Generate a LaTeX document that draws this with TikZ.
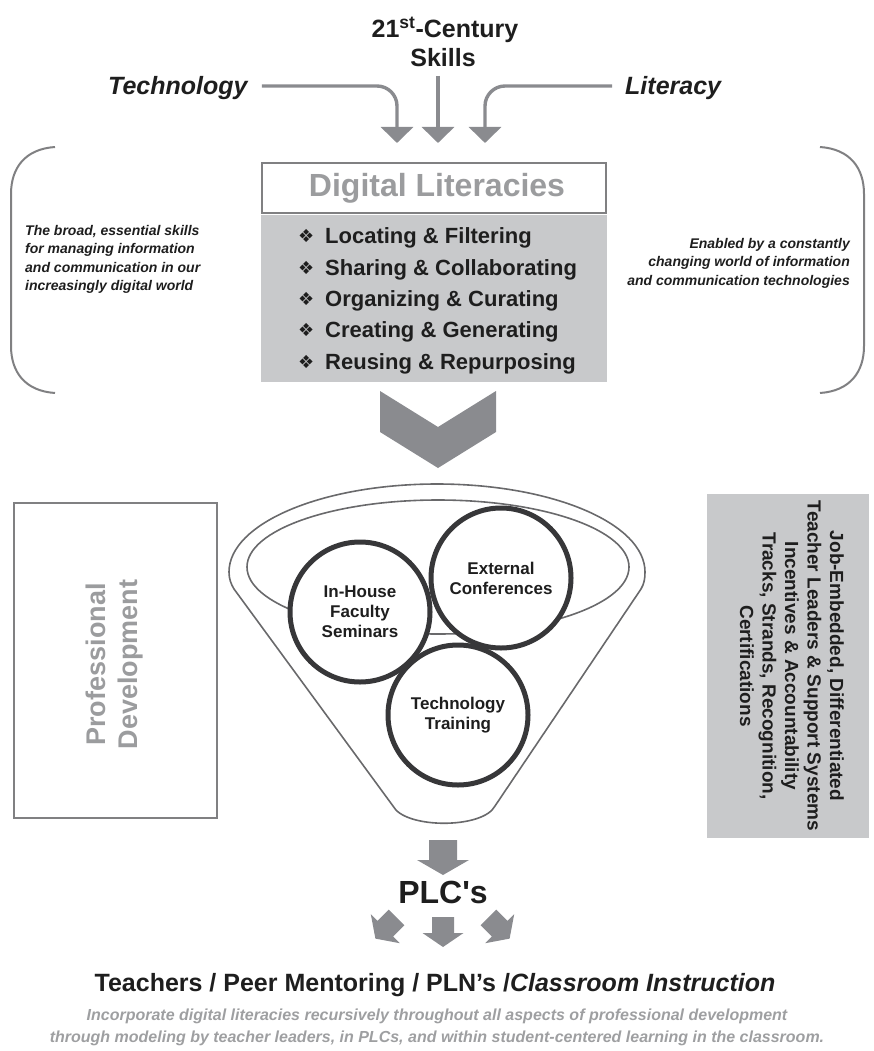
\documentclass[tikz,border=0pt]{standalone}
\usepackage{fontspec}
\setmainfont{Liberation Sans}
\newfontfamily\symfont{DejaVu Sans}
\usetikzlibrary{arrows.meta}

\definecolor{arrowgray}{RGB}{138,139,143}
\definecolor{panelgray}{RGB}{200,201,203}
\definecolor{titlegray}{RGB}{155,156,158}
\definecolor{framegray}{RGB}{128,128,130}
\definecolor{funnelline}{RGB}{105,105,107}
\definecolor{ringline}{RGB}{55,55,57}
\definecolor{notegray}{RGB}{158,159,161}
\definecolor{inkblack}{RGB}{30,30,30}

\newcommand{\fsz}[2]{\fontsize{#1}{#2}\selectfont}

\begin{document}
\begin{tikzpicture}[x=1pt,y=-1pt,
  txt/.style={inner sep=0pt, text=inkblack},
  feed/.style={draw=arrowgray, line width=3.4pt, rounded corners=20pt,
    -{Triangle[width=32pt,length=16pt]}},
  bracket/.style={draw=framegray, line width=2pt},
  note/.style={txt, font=\bfseries\itshape\fsz{14}{18.5}},
  listitem/.style={txt, font=\bfseries\fsz{22}{26}, anchor=base west},
  bullet/.style={txt, font=\symfont\fsz{18}{20}, anchor=base west},
  ring/.style={circle, draw=ringline, line width=5pt, fill=white,
    minimum size=140pt, inner sep=0pt, align=center, text=inkblack,
    font=\bfseries\fsz{17}{20}},
  pics/blkarrow/.style n args={4}{code={
    % #1 shaft half width, #2 head half width, #3 total length, #4 head length
    \fill[arrowgray] (-#1,-#3/2) -- (#1,-#3/2) -- (#1,#3/2-#4) -- (#2,#3/2-#4)
      -- (0,#3/2) -- (-#2,#3/2-#4) -- (-#1,#3/2-#4) -- cycle;
  }}
]
\useasboundingbox (0,0) rectangle (873,1051);

% ---------- heading and the three feeds ----------
\node[txt, anchor=base, font=\bfseries\fsz{25}{28}] (skillsA) at (445,38)
  {21\textsuperscript{st}-Century};
\node[txt, anchor=base, font=\bfseries\fsz{25}{28}] (skillsB) at (443,67) {Skills};
\node[txt, anchor=base west, font=\bfseries\itshape\fsz{25}{28}] (tech) at (108,95) {Technology};
\node[txt, anchor=base west, font=\bfseries\itshape\fsz{25}{28}] (lit) at (625,95) {Literacy};

\coordinate (tipT) at (397,143);
\coordinate (topC) at (438,76);
\coordinate (tipC) at (438,143);
\coordinate (tipL) at (485,143);

\draw[feed] ([shift={(14,-9)}]tech.base east) -| (tipT);
\draw[feed] (topC) -- (tipC);
\draw[feed] ([shift={(-13,-9)}]lit.base west) -| (tipL);

% ---------- side brackets ----------
\draw[bracket] (55,147) .. controls (25,149) and (11,168) .. (11,194)
  -- (11,346) .. controls (11,372) and (25,391) .. (55,393);
\draw[bracket] (820,147) .. controls (850,149) and (864,168) .. (864,194)
  -- (864,346) .. controls (864,372) and (850,391) .. (820,393);

% ---------- digital literacies panel ----------
\node[draw=framegray, line width=2pt, fill=white, minimum width=344pt,
  minimum height=50pt, inner sep=0pt] (dl) at (434,188) {};
\node[txt, text=titlegray, font=\bfseries\fsz{32}{34}] (dltitle)
  at ([xshift=3pt]dl.center) {Digital Literacies};
\node[fill=panelgray, minimum width=346pt, minimum height=167pt,
  inner sep=0pt, anchor=north] (list) at ([yshift=-1pt]dl.south) {};

\foreach \y/\t [count=\i] in {243/Locating \& Filtering,
    275/Sharing \& Collaborating,
    306/Organizing \& Curating,
    337/Creating \& Generating,
    369/Reusing \& Repurposing}{
  \node[bullet] (b\i) at (298,\y-1) {❖};
  \node[listitem] (item\i) at (325,\y) {\t};
}

\node[note, anchor=north west, align=left] (leftnote) at (25,225)
  {The broad, essential skills\\for managing information\\and communication in our\\increasingly digital world};
\node[note, anchor=north east, align=right] (rightnote) at (850,238)
  {Enabled by a constantly\\changing world of information\\and communication technologies};

% ---------- chevron ----------
\fill[arrowgray] (380,391) -- (438,427) -- (496,391) -- (496,432)
  -- (438,468) -- (380,432) -- cycle;

% ---------- side boxes ----------
\node[draw=framegray, line width=2pt, minimum width=203pt, minimum height=315pt,
  inner sep=0pt] (pd) at (115.5,660.5) {};
\node[txt, rotate=90, align=center, text=titlegray,
  font=\bfseries\fsz{27}{32}] (pdtext) at ([xshift=-1pt,yshift=-4pt]pd.center) {Professional\\Development};

\node[fill=panelgray, minimum width=162pt, minimum height=344pt,
  inner sep=0pt] (supp) at (788,666) {};
\node[txt, rotate=-90, align=center, font=\bfseries\fsz{19}{22.5}] (supptext)
  at ([xshift=4pt]supp.center)
  {Job-Embedded, Differentiated\\Teacher Leaders \& Support Systems\\Incentives \& Accountability\\Tracks, Strands, Recognition,\\Certifications};

% ---------- funnel ----------
\draw[funnelline, line width=1.6pt]
  (229,572) arc[start angle=180, end angle=360, x radius=208, y radius=88]
  .. controls (645,579) and (644,584) .. (641,589)
  -- (495,806) .. controls (483,829) and (405,829) .. (393,806)
  -- (234,589) .. controls (231,584) and (229,579) .. (229,572);
\draw[funnelline, line width=1.6pt] (438,567) ellipse[x radius=191, y radius=67];

\node[ring] (inhouse) at (360,612) {In-House\\Faculty\\Seminars};
\node[ring] (external) at (501,578) {External\\Conferences};
\node[ring] (training) at (458,715) {Technology\\Training};

% ---------- PLCs and outgoing arrows ----------
\pic at (443,857.5) {blkarrow={14}{26}{35}{15}};
\node[txt, anchor=base, font=\bfseries\fsz{32}{34}] (plc) at (443,903) {PLC\textquotesingle s};
\pic at (443,932) {blkarrow={11}{20.5}{30}{14}};
\pic[rotate=-45] at (386,928) {blkarrow={11}{20.5}{30}{14}};
\pic[rotate=45] at (499,928) {blkarrow={11}{20.5}{30}{14}};

\node[txt, anchor=base, font=\bfseries\fsz{25}{27}] (audience) at (435,991)
  {Teachers / Peer Mentoring / PLN’s /\textit{Classroom Instruction}};

\node[txt, anchor=base, text=notegray, font=\bfseries\itshape\fsz{16}{21}] (sumA) at (437,1020)
  {Incorporate digital literacies recursively throughout all aspects of professional development};
\node[txt, anchor=base, text=notegray, font=\bfseries\itshape\fsz{16}{21}] (sumB) at (437,1042)
  {through modeling by teacher leaders, in PLCs, and within student-centered learning in the classroom.};
\end{tikzpicture}
\end{document}
